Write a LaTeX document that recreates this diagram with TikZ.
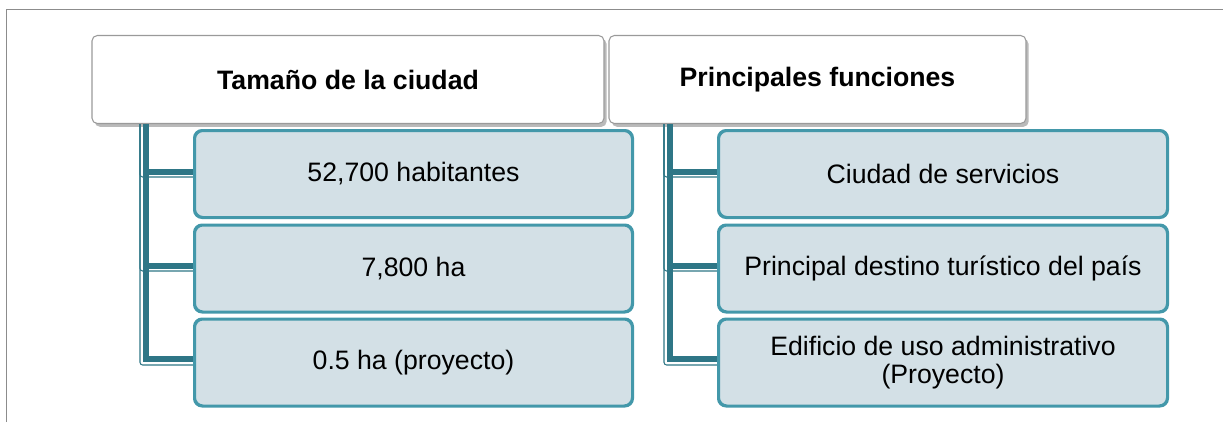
\documentclass[tikz,border=0pt]{standalone}
\usepackage{fontspec}
\setmainfont{Liberation Sans}
\usetikzlibrary{shadows}
\definecolor{frameg}{HTML}{8C8C8C}
\definecolor{hdrline}{HTML}{9A9A9A}
\definecolor{kidfill}{HTML}{D3E0E6}
\definecolor{kidline}{HTML}{4398AA}
\definecolor{conn}{HTML}{2E7686}
\begin{document}
\begin{tikzpicture}[x=0.75pt,y=-0.75pt,
  header/.style={draw=hdrline,line width=0.8pt,fill=white,rounded corners=4pt,
    minimum width=#1*0.75pt,minimum height=88*0.75pt,inner sep=0pt,
    font=\bfseries\fontsize{20}{24}\selectfont,
    drop shadow={shadow xshift=2pt,shadow yshift=-2.5pt,opacity=0.45,fill=black!60}},
  kid/.style={draw=kidline,line width=1.5pt,fill=kidfill,rounded corners=6pt,
    minimum width=#1*0.75pt,minimum height=86*0.75pt,inner sep=0pt,align=center,
    font=\fontsize{20}{21}\selectfont},
  thick conn/.style={draw=conn,line width=4pt},
  thin conn/.style={draw=conn,line width=0.8pt,rounded corners=2pt}]
\useasboundingbox (0,0) rectangle (1223,422);
% frame
\draw[frameg,line width=1.2pt] (6.5,422) -- (6.5,9.5) -- (1223,9.5);
% headers
\node[header=512] (h1) at (348,79.5) {Tamaño de la ciudad};
\node[header=417] (h2) at (817.5,79.5) {Principales funciones};
% connector anchor coordinates
\coordinate (a1) at (146,124);
\coordinate (b1) at (140,124);
\coordinate (a2) at (670,124);
\coordinate (b2) at (664,124);
% left column
\node[kid=437] (k1) at (413.5,174) {52,700 habitantes};
\node[kid=437] (k2) at (413.5,268.5) {7,800 ha};
\node[kid=437] (k3) at (413.5,362.5) {0.5 ha (proyecto)};
% right column
\node[kid=448] (r1) at (943,174) {Ciudad de servicios};
\node[kid=448] (r2) at (943,268.5) {Principal destino turístico del país};
\node[kid=448] (r3) at (943,362.5) {Edificio de uso administrativo\\(Proyecto)};
% connectors: thin outlines
\foreach \k/\y in {k1/177,k2/271,k3/365}{
  \draw[thin conn] (b1) -- (b1 |- 0,\y) -- (\k.west |- 0,\y);
}
\foreach \k/\y in {r1/177,r2/271,r3/365}{
  \draw[thin conn] (b2) -- (b2 |- 0,\y) -- (\k.west |- 0,\y);
}
% thick connectors
\foreach \k/\y in {k1/172,k2/266,k3/359}{
  \draw[thick conn] (a1) -- (a1 |- 0,\y) -- (\k.west |- 0,\y);
}
\foreach \k/\y in {r1/172,r2/266,r3/359}{
  \draw[thick conn] (a2) -- (a2 |- 0,\y) -- (\k.west |- 0,\y);
}
% redraw kids' borders on top of connector ends
\foreach \k in {k1,k2,k3,r1,r2,r3}{
  \draw[kidline,line width=1.5pt,rounded corners=6pt] (\k.south west) rectangle (\k.north east);
}
\end{tikzpicture}
\end{document}
